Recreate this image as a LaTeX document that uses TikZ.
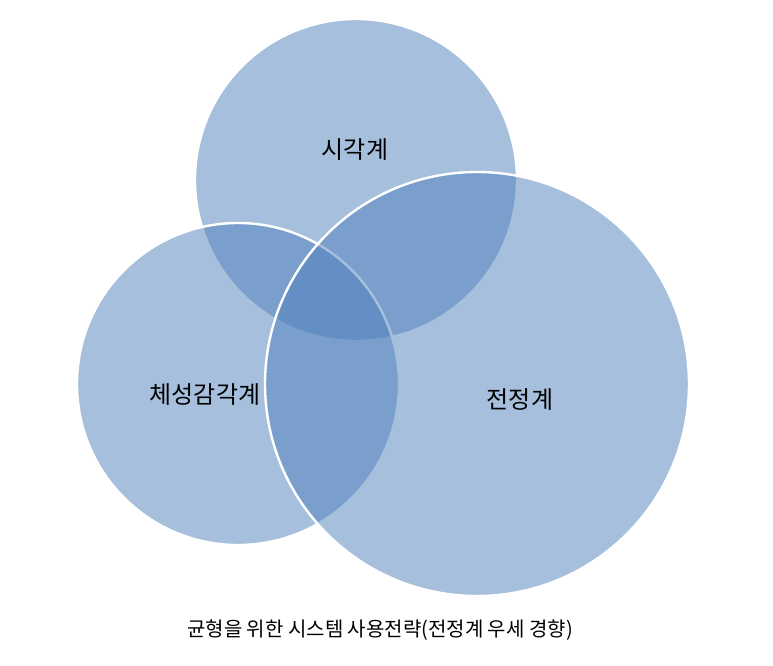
\documentclass[tikz,border=0pt]{standalone}
\usepackage{fontspec}
\setmainfont{Noto Sans CJK KR}
\begin{document}
\begin{tikzpicture}[x=0.75pt,y=-0.75pt,
  circ/.style={fill={rgb,255:red,79;green,129;blue,189},fill opacity=0.5,draw=white,line width=1.8pt},
  lbl/.style={font=\fontsize{18}{20}\selectfont,text=black}]
\useasboundingbox (0,0) rectangle (773,666);
\fill[white] (0,0) rectangle (773,666);
\path[circ] (356,180) circle[radius=161*0.75pt];
\path[circ] (238,384) circle[radius=161*0.75pt];
\path[circ] (477,384) circle[radius=212*0.75pt];
\node[lbl] (a) at (355,150) {시각계};
\node[lbl] (b) at (205,395) {체성감각계};
\node[lbl] (c) at (520,400) {전정계};
\node[font=\fontsize{15}{17}\selectfont] (d) at (380,630) {균형을 위한 시스템 사용전략(전정계 우세 경향)};
\end{tikzpicture}
\end{document}
